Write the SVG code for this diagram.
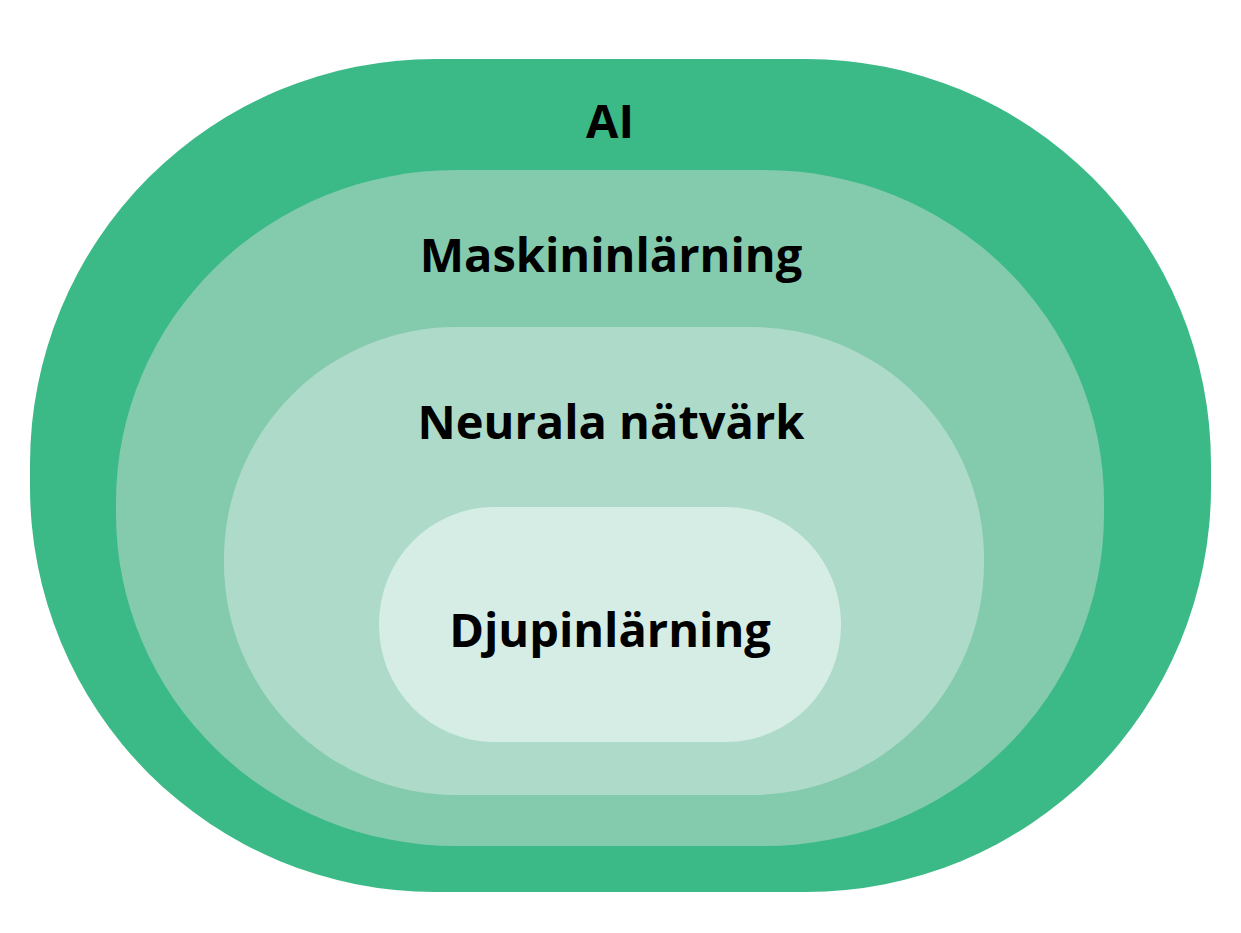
<svg xmlns="http://www.w3.org/2000/svg" width="1241" height="933" viewBox="0 0 1241 933">
<style>
.lbl{font-family:"Open Sans","Noto Sans","Liberation Sans",sans-serif;font-weight:700;font-size:47px;fill:#000;text-anchor:middle}
</style>
<rect width="1241" height="933" fill="#fff"/>
<g id="ai">
<rect x="30" y="59" width="1181" height="833" rx="405" ry="405" fill="#3BBA87"/>
<text class="lbl" x="610" y="138">AI</text>
</g>
<g id="maskininlarning">
<rect x="116" y="170" width="988" height="676" rx="340" ry="332" fill="#84CBAE"/>
<text class="lbl" x="611" y="272">Maskininlärning</text>
</g>
<g id="neurala">
<rect x="224" y="327" width="760" height="468" rx="232" ry="232" fill="#AEDBC9"/>
<text class="lbl" x="611" y="439">Neurala nätvärk</text>
</g>
<g id="djupinlarning">
<rect x="379" y="507" width="462" height="235" rx="115" ry="117" fill="#D6EDE5"/>
<text class="lbl" x="610" y="647">Djupinlärning</text>
</g>
<g id="connectors"/>
</svg>
